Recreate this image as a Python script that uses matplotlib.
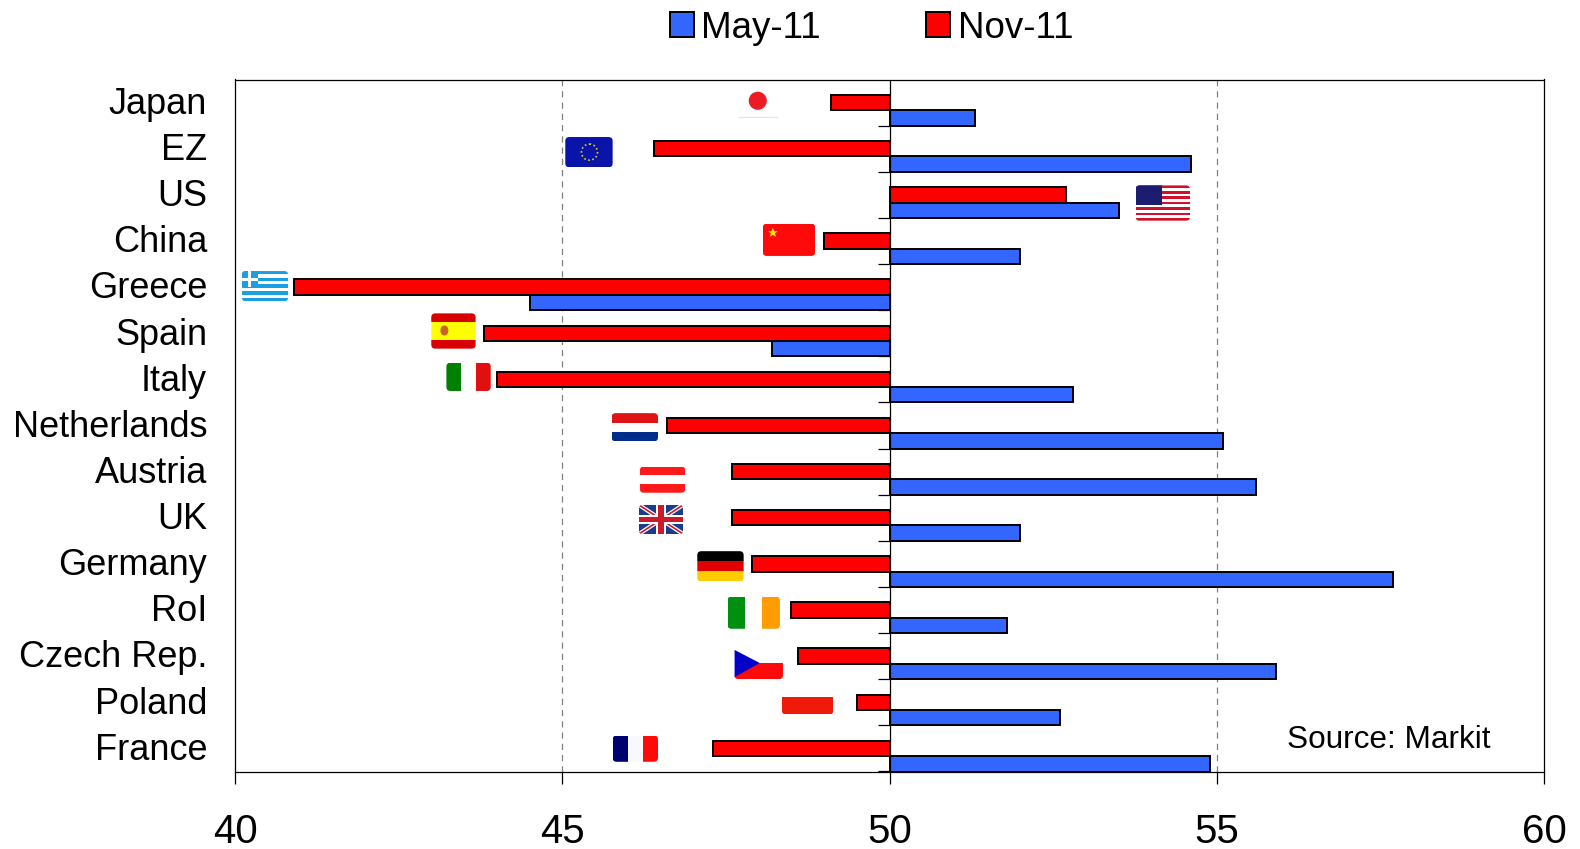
import matplotlib
matplotlib.use('Agg')
import matplotlib.pyplot as plt
from matplotlib.patches import Rectangle, Polygon, Circle, Ellipse, Patch, FancyBboxPatch
from matplotlib.transforms import Affine2D, ScaledTranslation

plt.rcParams['font.family'] = ['Liberation Sans', 'DejaVu Sans']

countries = ['Japan', 'EZ', 'US', 'China', 'Greece', 'Spain', 'Italy', 'Netherlands',
             'Austria', 'UK', 'Germany', 'RoI', 'Czech Rep.', 'Poland', 'France']
nov_11 = [49.1, 46.4, 52.7, 49.0, 40.9, 43.8, 44.0, 46.6, 47.6, 47.6, 47.9, 48.5, 48.6, 49.5, 47.3]
may_11 = [51.3, 54.6, 53.5, 52.0, 44.5, 48.2, 52.8, 55.1, 55.6, 52.0, 57.7, 51.8, 55.9, 52.6, 54.9]
xticks = [40, 45, 50, 55, 60]

BLUE = '#3366FF'
RED = '#FF0000'

fig = plt.figure(figsize=(15.8, 8.49), dpi=100)
ax = fig.add_axes([235 / 1580, 1 - 771.5 / 849, (1544 - 235) / 1580, (771.5 - 79.5) / 849])

y = list(range(len(countries)))
bar_h = 1 / 3

# bars start from the 50 line
nov_w = [v - 50 for v in nov_11]
may_w = [v - 50 for v in may_11]
ax.barh(y, nov_w, left=50, height=bar_h, color=RED, edgecolor='black', linewidth=1.4, zorder=3)
ax.barh([i + bar_h for i in y], may_w, left=50, height=bar_h, color=BLUE, edgecolor='black',
        linewidth=1.4, zorder=3)

ax.set_xlim(40, 60)
ax.set_ylim(len(countries) - 0.5, -0.5)
ax.set_xticks(xticks)
ax.set_yticks(y)
ax.set_yticklabels(countries, fontsize=26)
ax.tick_params(axis='y', length=0, pad=20)
ax.tick_params(axis='x', length=8.5, width=0.9, labelsize=29, pad=21.5)
nudge = ScaledTranslation(0, 1.6 / 72, fig.dpi_scale_trans)
for lab in ax.get_yticklabels():
    lab.set_transform(lab.get_transform() + nudge)

for sp in ax.spines.values():
    sp.set_linewidth(0.9)

# gridlines and the crossing axis at 50
for v in [45, 55]:
    ax.axvline(v, color='#808080', lw=0.9, dashes=(5, 4), zorder=1)
ax.axvline(50, color='black', lw=0.9, zorder=4)
ax.hlines([i - 0.5 for i in range(len(countries) + 1)], 49.82, 50, color='black', lw=0.9, zorder=2)

ax.text(56.07, 13.81, 'Source: Markit', fontsize=22.7, va='center', ha='left')

fig.legend(handles=[Patch(facecolor=BLUE, edgecolor='black', lw=1.4),
                    Patch(facecolor=RED, edgecolor='black', lw=1.4)],
           labels=['May-11', 'Nov-11'], ncol=2, frameon=False, fontsize=26.5,
           loc='center', bbox_to_anchor=(0.5515, 1 - 28 / 849),
           handlelength=0.66, handleheight=0.66, handletextpad=0.2, columnspacing=2.85,
           borderpad=0, borderaxespad=0)

# flags, placed in picture pixels
s = 1580 / 1568
px = Affine2D().scale(s, -s).translate(0, 849)
clip = None


def flag_box(x0, y0, x1, y1, r=4):
    global clip
    clip = FancyBboxPatch((x0 + r, y0 + r), x1 - x0 - 2 * r, y1 - y0 - 2 * r,
                          boxstyle=f'round,pad={r},rounding_size={r}', transform=px)


def rect(x0, y0, x1, y1, color, z=5):
    r = fig.add_artist(Rectangle((x0, y0), x1 - x0, y1 - y0, transform=px, facecolor=color,
                                 edgecolor='none', zorder=z))
    r.set_clip_path(clip)


def hstripes(x0, y0, x1, y1, colors):
    flag_box(x0, y0, x1, y1)
    h = (y1 - y0) / len(colors)
    for i, c in enumerate(colors):
        rect(x0, y0 + i * h, x1, y0 + (i + 1) * h, c)


def vstripes(x0, y0, x1, y1, colors):
    flag_box(x0, y0, x1, y1)
    w = (x1 - x0) / len(colors)
    for i, c in enumerate(colors):
        rect(x0 + i * w, y0, x0 + (i + 1) * w, y1, c)


def poly(points, color):
    fig.add_artist(Polygon(points, closed=True, transform=px, facecolor=color, edgecolor='none', zorder=6))


def line(a, b, color, lw):
    l = fig.add_artist(plt.Line2D([a[0], b[0]], [a[1], b[1]], transform=px, color=color, lw=lw, zorder=6))
    l.set_clip_path(clip)


# Japan
fig.add_artist(Circle((752, 100), 9, transform=px, facecolor='#ED1C24', edgecolor='none', zorder=6))
fig.add_artist(plt.Line2D([733, 771], [116, 116], transform=px, color='#E6E6E6', lw=1, zorder=6))
# EZ
flag_box(561, 136, 608, 166)
rect(561, 136, 608, 166, '#0A14A8')
fig.add_artist(Circle((585, 151), 8, transform=px, facecolor='none', edgecolor='#D8D020', lw=1.2,
                      linestyle=(0, (1, 1.5)), zorder=6))
# US
hstripes(1127, 184, 1181, 219, ['#D2102C', 'white'] * 6 + ['#D2102C'])
rect(1127, 184, 1153, 203, '#1C1C70')
# China
flag_box(757, 222, 809, 254)
rect(757, 222, 809, 254, '#FF0A0A')
poly([(767, 226), (768.5, 229.5), (772, 229.5), (769, 231.5), (770, 235), (767, 233),
      (764, 235), (765, 231.5), (762, 229.5), (765.5, 229.5)], '#FFE000')
# Greece
hstripes(240, 269, 286, 299, ['#1A9FE0', 'white'] * 4 + ['#1A9FE0'])
rect(240, 269, 256, 285, '#1A9FE0')
rect(246, 269, 249, 285, 'white')
rect(240, 276, 256, 279, 'white')
# Spain
hstripes(428, 311, 472, 346, ['#D80000', '#FFFF00', '#FFFF00', '#D80000'])
fig.add_artist(Ellipse((441, 328), 8, 10, transform=px, facecolor='#C8641E', edgecolor='none', zorder=6))
# Italy
vstripes(443, 360, 487, 388, ['#008000', 'white', '#E01010'])
# Netherlands
hstripes(607, 410, 653, 438, ['#E01414', 'white', '#002D8C'])
# Austria
hstripes(635, 463, 680, 489, ['#FF1A1A', 'white', '#FF1A1A'])
# UK
flag_box(634, 501, 678, 530)
rect(634, 501, 678, 530, '#1A3C8C')
for a, b in [((634, 501), (678, 530)), ((634, 530), (678, 501))]:
    line(a, b, 'white', 3)
    line(a, b, '#CC1A2C', 1.2)
rect(651, 501, 661, 530, 'white', z=7)
rect(634, 511, 678, 520, 'white', z=7)
rect(653, 501, 659, 530, '#CC1A2C', z=8)
rect(634, 513, 678, 518, '#CC1A2C', z=8)
# Germany
hstripes(692, 547, 738, 577, ['black', '#E00000', '#FFCC00'])
# RoI
vstripes(722, 592, 774, 624, ['#009010', 'white', '#FF9C00'])
# Czech Rep.
flag_box(729, 645, 777, 674)
rect(729, 658, 777, 674, '#FF0A0A')
poly([(729, 645), (754, 658), (729, 672)], '#0000C8')
# Poland
flag_box(776, 682, 827, 709)
rect(776, 692, 827, 709, '#EE1A0A')
# France
vstripes(608, 730, 653, 756, ['#000070', '#F8F8FF', '#FF0A0A'])

fig.savefig('out.png', dpi=100)
